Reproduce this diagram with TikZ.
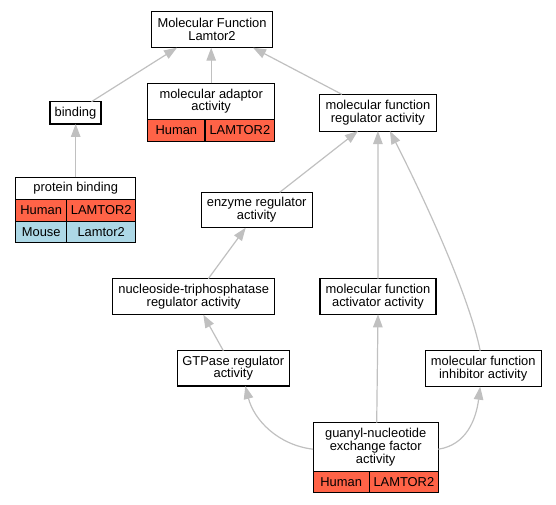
\documentclass[tikz,border=0pt]{standalone}
\usepackage{fontspec}
\setmainfont{Liberation Sans}
\usetikzlibrary{arrows.meta, positioning}
\definecolor{human}{HTML}{FF6347}
\definecolor{mouse}{HTML}{ADD8E6}
\definecolor{edgegray}{HTML}{C0C0C0}

\begin{document}
\begin{tikzpicture}[
        x=1pt, y=-1pt,
        box/.style={rectangle, draw=black, line width=1.1pt, fill=white, align=center, inner sep=0pt, outer sep=0pt, font=\fontsize{12.9}{12.7}\selectfont},
        humancell/.style={box, fill=human, minimum height=22pt},
        mousecell/.style={box, fill=mouse, minimum height=21.5pt},
        arrow/.style={-{Triangle[length=13pt, width=9.5pt]}, line width=1.2pt, color=edgegray}
    ]
        \useasboundingbox (0,0) rectangle (556,504);

        \node[box, minimum width=120.6pt, minimum height=36pt] (mf) at (212,29.7) {Molecular Function\\Lamtor2};

        \node[box, minimum width=51pt, minimum height=22.3pt] (binding) at (75.5,112.8) {binding};
        \node[box, minimum width=127pt, minimum height=36pt] (adaptor) at (211.2,101.3) {molecular adaptor\\activity};
        \node[humancell, minimum width=57.3pt, below right=0pt and 0pt of adaptor.south west] (adaptorH) {Human};
        \node[humancell, minimum width=69.7pt, right=0pt of adaptorH] (adaptorG) {LAMTOR2};
        \node[box, minimum width=116.3pt, minimum height=36.7pt] (mfreg) at (377.9,112.7) {molecular function\\regulator activity};

        \node[box, minimum width=120pt, minimum height=22pt] (protbind) at (75.7,188.3) {protein binding};
        \node[humancell, minimum width=51pt, below right=0pt and 0pt of protbind.south west] (protbindH) {Human};
        \node[humancell, minimum width=69pt, right=0pt of protbindH] (protbindG) {LAMTOR2};
        \node[mousecell, minimum width=51pt, below=0pt of protbindH] (protbindM) {Mouse};
        \node[mousecell, minimum width=69pt, right=0pt of protbindM] (protbindMG) {Lamtor2};
        \node[box, minimum width=111.3pt, minimum height=35.4pt] (enzreg) at (256.7,210) {enzyme regulator\\activity};

        \node[box, minimum width=162pt, minimum height=36pt] (ntpreg) at (193.7,296.7) {nucleoside-triphosphatase\\regulator activity};
        \node[box, minimum width=116pt, minimum height=35.6pt] (mfact) at (378,296.5) {molecular function\\activator activity};

        \node[box, minimum width=112pt, minimum height=35.3pt] (gtpreg) at (233.3,368.3) {GTPase regulator\\activity};
        \node[box, minimum width=116.3pt, minimum height=36pt] (mfinh) at (483.2,368.7) {molecular function\\inhibitor activity};

        \node[box, minimum width=125.3pt, minimum height=49pt] (gef) at (375.7,447.2) {guanyl-nucleotide\\exchange factor\\activity};
        \node[humancell, minimum height=21pt, minimum width=56.3pt, below right=0pt and 0pt of gef.south west] (gefH) {Human};
        \node[humancell, minimum height=21pt, minimum width=69pt, right=0pt of gefH] (gefG) {LAMTOR2};

        % Arrows
        \draw[arrow] ([xshift=16pt]binding.north) -- ([xshift=-35pt]mf.south);
        \draw[arrow] (adaptor.north) -- (adaptor.north |- mf.south);
        \draw[arrow] ([xshift=-36pt]mfreg.north) -- ([xshift=41pt]mf.south);
        \draw[arrow] (protbind.north) -- (protbind.north |- binding.south);
        \draw[arrow] ([xshift=23pt]enzreg.north) -- ([xshift=-20pt]mfreg.south);
        \draw[arrow] (mfact.north) -- (mfreg.south);
        \draw[arrow] ([xshift=-3pt]mfinh.north) .. controls (470,300) and (430,210) .. ([xshift=12pt]mfreg.south);
        \draw[arrow] ([xshift=14.6pt]ntpreg.north) -- ([xshift=-11pt]enzreg.south);
        \draw[arrow] ([xshift=-10pt]gtpreg.north) -- ([xshift=9.6pt]ntpreg.south);

        % From the exchange factor
        \draw[arrow] ([yshift=-2pt]gef.west) .. controls (278,445) and (254,420) .. ([xshift=12pt]gtpreg.south);
        \draw[arrow] ([xshift=1pt]gef.north) -- (mfact.south);
        \draw[arrow] ([yshift=-2pt]gef.east) .. controls (466,445) and (476,420) .. ([xshift=-3pt]mfinh.south);

    \end{tikzpicture}
\end{document}
